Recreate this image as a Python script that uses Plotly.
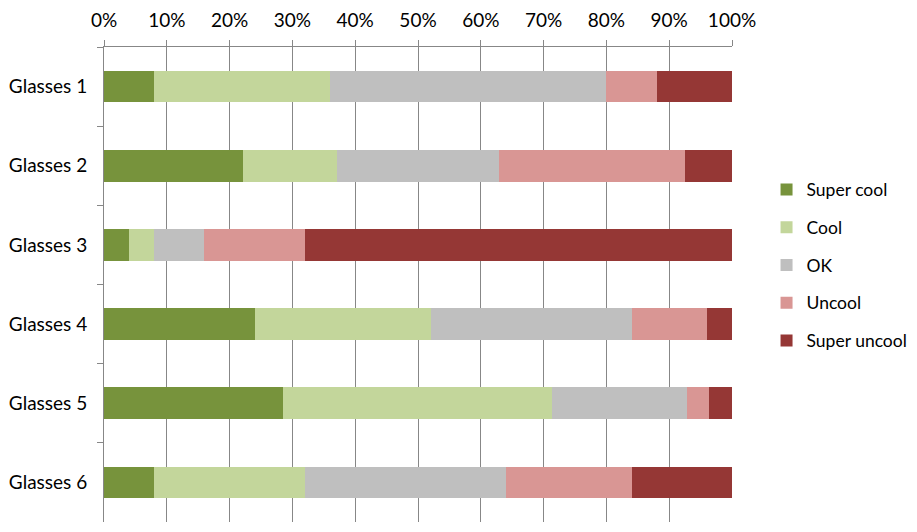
import plotly.graph_objects as go

categories = ["Glasses 1", "Glasses 2", "Glasses 3", "Glasses 4", "Glasses 5", "Glasses 6"]
series_names = ["Super cool", "Cool", "OK", "Uncool", "Super uncool"]
super_cool = [8, 22.1, 4, 24, 28.5, 8]
cool = [28, 15, 4, 28, 42.8, 24]
ok = [44, 25.8, 8, 32, 21.5, 32]
uncool = [8, 29.6, 16, 12, 3.5, 20]
super_uncool = [12, 7.5, 68, 4, 3.7, 16]
colors = ["#77933C", "#C3D69B", "#BFBFBF", "#D99694", "#953735"]
tick_vals = [0, 0.1, 0.2, 0.3, 0.4, 0.5, 0.6, 0.7, 0.8, 0.9, 1.0]
tick_text = ["0%", "10%", "20%", "30%", "40%", "50%", "60%", "70%", "80%", "90%", "100%"]

series = [super_cool, cool, ok, uncool, super_uncool]

fig = go.Figure()
for name, vals, col in zip(series_names, series, colors):
    fig.add_trace(go.Bar(
        y=categories, x=[v / 100 for v in vals], name=name, orientation="h",
        marker=dict(color=col, line=dict(width=0)), legendgroup=name,
    ))

font = "Lato, 'Open Sans', 'Liberation Sans', sans-serif"
fig.update_layout(
    width=909, height=524,
    barmode="stack", bargap=0.6,
    plot_bgcolor="white", paper_bgcolor="white",
    margin=dict(l=96, r=185, t=39, b=10, autoexpand=False),
    font=dict(family=font, size=19, color="#000000"),
    legend=dict(x=1.055, y=0.541, yanchor="middle", xanchor="left",
                traceorder="grouped", tracegroupgap=12,
                font=dict(size=17.5), itemwidth=30, bgcolor="rgba(0,0,0,0)"),
    showlegend=True,
)
fig.update_xaxes(
    side="top", range=[0, 1], tickvals=tick_vals, ticktext=tick_text,
    showgrid=True, gridcolor="#878787", gridwidth=1,
    showline=True, linecolor="#878787", linewidth=1,
    ticks="outside", ticklen=6, tickcolor="#878787",
    ticklabelstandoff=5, zeroline=False,
)
fig.update_yaxes(
    autorange="reversed", showline=True, linecolor="#878787", linewidth=1,
    ticks="outside", ticklen=6, tickcolor="#878787", tickson="boundaries",
    showgrid=False, ticklabelstandoff=12,
)
fig.write_html("out.html")
